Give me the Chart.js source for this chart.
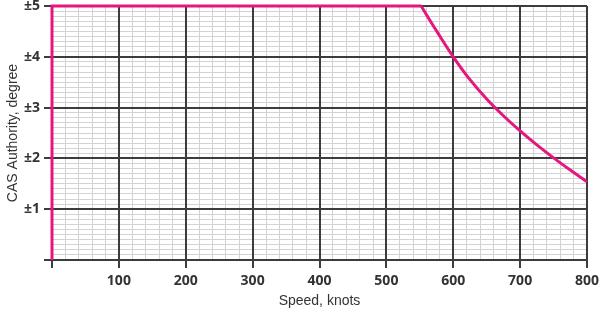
<!DOCTYPE html>
<html>
<head>
<meta charset="utf-8">
<script src="https://cdn.jsdelivr.net/npm/chart.js@4"></script>
<style>
  html, body { margin: 0; padding: 0; background: #fff; }
  #wrap { width: 600px; height: 315px; }
</style>
</head>
<body>
<div id="wrap"><canvas id="casChart"></canvas></div>
<script>
/* ------------------------------------------------------------
   DATA
------------------------------------------------------------ */
const flatSpeeds = [0, 0, 552];
const flatAuthority = [0, 5, 5];

const curveSpeeds = [552, 575, 600, 625, 650, 675, 700, 725, 750, 775, 800];
const curveAuthority = [5.0, 4.51, 4.0, 3.55, 3.17, 2.84, 2.54, 2.265, 2.01, 1.77, 1.54];

const xTicks = [0, 100, 200, 300, 400, 500, 600, 700, 800];
const yTicks = [0, 1, 2, 3, 4, 5];

const xTitle = "Speed, knots";
const yTitle = "CAS Authority, degree";

/* ------------------------------------------------------------
   STYLE
------------------------------------------------------------ */
const PINK = "#e5177f";
const MAJOR = "#3c3c3c";
const MINOR = "#d2d2d2";
const TEXT = "#333333";

const tickFont = { family: "'Open Sans', sans-serif", size: 14, weight: "bold" };
const titleFont = { family: "'Liberation Sans', Arial, sans-serif", size: 14 };

const toPoints = (xs, ys) => xs.map((x, i) => ({ x, y: ys[i] }));

/* ------------------------------------------------------------
   CHART
------------------------------------------------------------ */
const ctx = document.getElementById("casChart").getContext("2d");

new Chart(ctx, {
  type: "line",
  data: {
    datasets: [
      {
        data: toPoints(flatSpeeds, flatAuthority),
        borderColor: PINK,
        borderWidth: 3,
        pointRadius: 0,
        tension: 0,
        clip: false
      },
      {
        data: toPoints(curveSpeeds, curveAuthority),
        borderColor: PINK,
        borderWidth: 3,
        pointRadius: 0,
        tension: 0.4,
        clip: false
      }
    ]
  },
  options: {
    responsive: true,
    maintainAspectRatio: false,
    animation: false,
    layout: { padding: { top: 6, right: 13, left: 0, bottom: 0 } },
    plugins: { legend: { display: false }, tooltip: { enabled: false } },
    scales: {
      // minor grid (20 knots / 0.1 degree)
      xMinor: {
        type: "linear",
        position: "top",
        min: 0,
        max: 800,
        z: -1,
        ticks: { display: false, stepSize: 20 },
        grid: { color: MINOR, lineWidth: 1, drawTicks: false },
        border: { display: false },
        afterFit: s => { s.height = 0; }
      },
      yMinor: {
        type: "linear",
        position: "right",
        min: 0,
        max: 5,
        z: -1,
        ticks: { display: false, stepSize: 0.1 },
        grid: { color: MINOR, lineWidth: 1, drawTicks: false },
        border: { display: false },
        afterFit: s => { s.width = 0; }
      },
      x: {
        type: "linear",
        position: "bottom",
        min: xTicks[0],
        max: xTicks[xTicks.length - 1],
        ticks: {
          stepSize: 100,
          color: TEXT,
          font: tickFont,
          padding: 5,
          maxRotation: 0,
          callback: v => (v === 0 ? "" : String(v))
        },
        grid: { color: MAJOR, lineWidth: 2, tickLength: 8 },
        border: { color: MAJOR, width: 2 },
        title: {
          display: true,
          text: xTitle,
          color: TEXT,
          font: titleFont,
          padding: { top: 4, bottom: 5 }
        },
        afterFit: s => {
          s.height = 55;
          s.paddingLeft = 0;
          s.paddingRight = 0;
        }
      },
      y: {
        type: "linear",
        position: "left",
        min: yTicks[0],
        max: yTicks[yTicks.length - 1],
        ticks: {
          stepSize: 1,
          color: TEXT,
          font: tickFont,
          padding: 4,
          callback: v => (v === 0 ? "" : "\u00b1" + v)
        },
        grid: { color: MAJOR, lineWidth: 2, tickLength: 8 },
        border: { color: MAJOR, width: 2 },
        title: {
          display: true,
          text: yTitle,
          color: TEXT,
          font: titleFont,
          padding: { top: 5, bottom: 4 }
        },
        afterFit: s => {
          s.width = 52;
          s.paddingTop = 0;
          s.paddingBottom = 0;
        }
      }
    }
  }
});
</script>
</body>
</html>
